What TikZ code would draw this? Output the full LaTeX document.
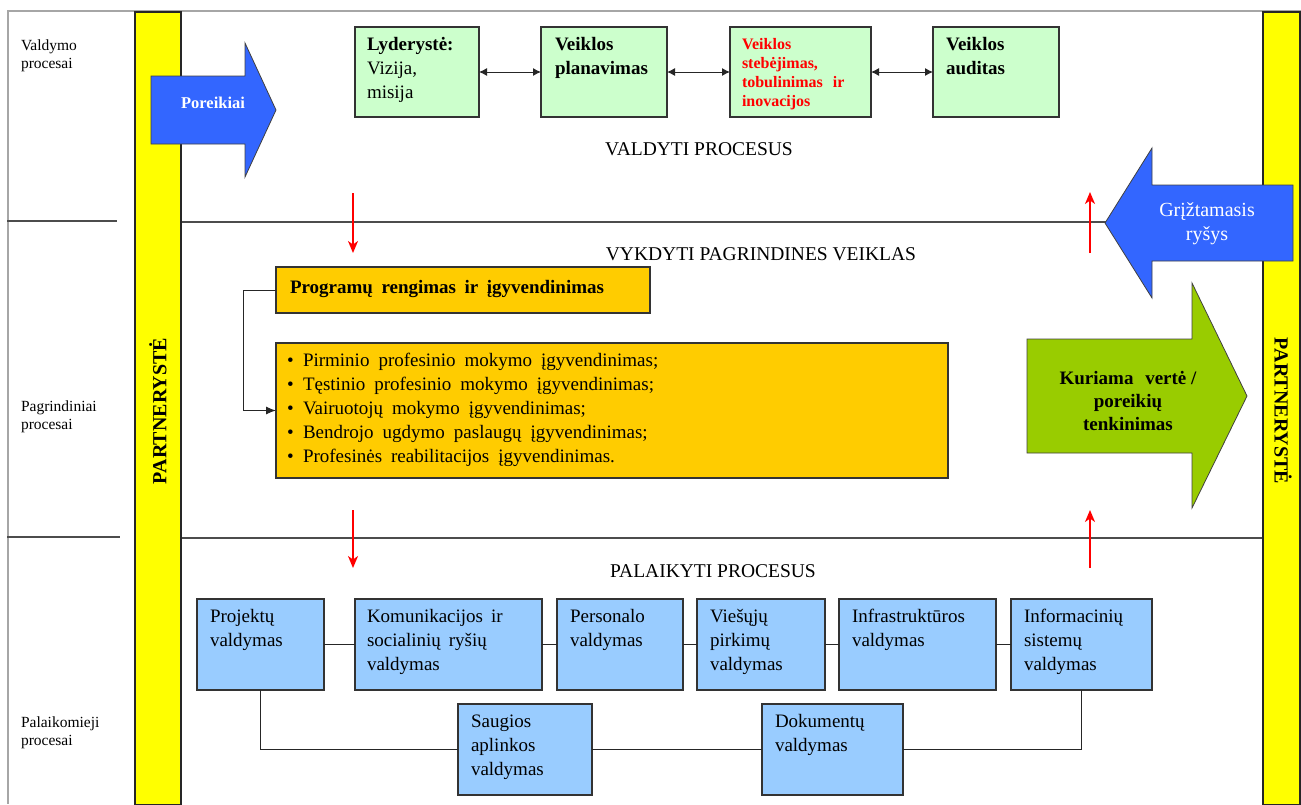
\documentclass[tikz,border=0pt]{standalone}
\usepackage{fontspec}
\setmainfont{Liberation Serif}
\usetikzlibrary{arrows.meta}
\definecolor{yfill}{HTML}{FFFF00}
\definecolor{gfill}{HTML}{CCFFCC}
\definecolor{bfill}{HTML}{99CCFF}
\definecolor{ofill}{HTML}{FFCC00}
\definecolor{arrblue}{HTML}{3366FF}
\definecolor{arrgreen}{HTML}{99CC00}
\newcommand\fsz[2]{\fontsize{#1}{#2}\selectfont}
\newcommand\mkbox[6]{\node[#1, minimum width={#4-#2}, minimum height={#5-#3}] (#6) at ({(#2+#4)/2},{(#3+#5)/2}) {};}
\newcommand\bl{\makebox[16pt][l]{\textbullet}}
\begin{document}
\begin{tikzpicture}[x=1pt,y=-1pt,
  every node/.style={inner sep=0pt, outer sep=0pt},
  xframe/.style={draw=black!80, line width=1.1pt},
  gbox/.style={xframe, fill=gfill},
  bbox/.style={xframe, fill=bfill},
  obox/.style={xframe, fill=ofill},
  xbar/.style={draw=black!85, line width=1.2pt, fill=yfill},
  xsep/.style={draw=black!70, line width=1.2pt},
  xconn/.style={draw=black!85, line width=1pt},
  dblarr/.style={xconn, {Latex[length=8pt,width=8pt]}-{Latex[length=8pt,width=8pt]}},
  blockarrow/.style={draw=black!75, line width=0.8pt},
  redarr/.style={draw=red, line width=1.6pt, -{Stealth[length=12pt,width=10pt,inset=3.5pt]}},
  txt/.style={align=left, anchor=north west, font=\fsz{19}{24}},
  sidelabel/.style={align=left, anchor=north west, font=\fsz{15.5}{18}},
  title/.style={font=\fsz{19.5}{24}},
  partner/.style={font=\fsz{20}{24}\bfseries}
]
\useasboundingbox (0,0) rectangle (1301,804);
% outer frame
\draw[draw=black!35, line width=1.2pt] (7,11) -- (1301,11);
\draw[draw=black!35, line width=1.2pt] (8,11) -- (8,804);
% section separators
\draw[xsep] (7,221) -- (117,221);
\draw[xsep] (7,537) -- (120,537);
\draw[xsep] (181,222) -- (1263,222);
\draw[xsep] (181,538) -- (1263,538);
% side labels
\node[sidelabel] (l1) at (21,38) {\strut Valdymo\\procesai};
\node[sidelabel] (l2) at (21,399) {\strut Pagrindiniai\\procesai};
\node[sidelabel] (l3) at (21,715) {\strut Palaikomieji\\procesai};
% partnership bars
\draw[xbar] (135,12) rectangle (181,805);
\draw[xbar] (1263,12) rectangle (1300,805);
\node[partner, rotate=90] (p1) at (158,411) {PARTNERYSTĖ};
\node[partner, rotate=-90] (p2) at (1283,411) {PARTNERYSTĖ};
% block arrows
\draw[blockarrow, fill=arrblue] (151,76) -- (245,76) -- (245,43) -- (276,110) -- (245,177) -- (245,144) -- (151,144) -- cycle;
\node[font=\fsz{16.5}{20}\bfseries, text=white] (por) at (213,103) {Poreikiai};
\draw[blockarrow, fill=arrblue] (1293,185) -- (1152,185) -- (1152,148) -- (1105,223) -- (1152,298) -- (1152,261) -- (1293,261) -- cycle;
\node[font=\fsz{20}{24}, text=white, align=center] (gr) at (1207,224) {Grįžtamasis\\ryšys};
\draw[blockarrow, fill=arrgreen] (1027,339) -- (1192,339) -- (1192,283) -- (1247,396) -- (1192,508) -- (1192,453) -- (1027,453) -- cycle;
\node[font=\fsz{19}{23}\bfseries, align=center] (kv) at (1128,401) {Kuriama\hspace{7pt} vertė /\\poreikių\\tenkinimas};
% titles
\node[title] (t1) at (699,149) {VALDYTI PROCESUS};
\node[title] (t2) at (761,254) {VYKDYTI PAGRINDINES VEIKLAS};
\node[title] (t3) at (713,571) {PALAIKYTI PROCESUS};
% management boxes
\mkbox{gbox}{355}{27}{479}{117}{g1}
\mkbox{gbox}{541}{27}{667}{117}{g2}
\mkbox{gbox}{730}{27}{871}{117}{g3}
\mkbox{gbox}{933}{27}{1059}{117}{g4}
\node[txt] (g1t) at ([shift={(12,7)}]g1.north west) {\strut\textbf{Lyderystė:}\\Vizija,\\misija};
\node[txt, font=\fsz{19}{24}\bfseries] (g2t) at ([shift={(14,7)}]g2.north west) {\strut Veiklos\\planavimas};
\node[txt, font=\fsz{16}{19}\bfseries, text=red] (g3t) at ([shift={(12,9)}]g3.north west) {\strut Veiklos\\stebėjimas,\\tobulinimas\hspace{6pt} ir\\inovacijos};
\node[txt, font=\fsz{19}{24}\bfseries] (g4t) at ([shift={(13,7)}]g4.north west) {\strut Veiklos\\auditas};
\draw[dblarr] (g1.east) -- (g2.west);
\draw[dblarr] (g2.east) -- (g3.west);
\draw[dblarr] (g3.east) -- (g4.west);
% main activity boxes
\mkbox{obox}{276}{267}{650}{313}{o1}
\mkbox{obox}{276}{343}{948}{478}{o2}
\node[font={\fsz{19}{24}\bfseries\spaceskip=8.5pt}, anchor=west] (o1t) at ([shift={(14,-1)}]o1.west) {Programų rengimas ir įgyvendinimas};
\node[txt, font={\fsz{19}{24}\spaceskip=9pt plus 1pt}] (o2t) at ([shift={(11,7)}]o2.north west) {\strut\bl Pirminio profesinio mokymo įgyvendinimas;\\
\bl Tęstinio profesinio mokymo įgyvendinimas;\\
\bl Vairuotojų mokymo įgyvendinimas;\\
\bl Bendrojo ugdymo paslaugų įgyvendinimas;\\
\bl Profesinės reabilitacijos įgyvendinimas.};
\draw[xconn, -{Latex[length=10pt,width=8pt]}] (o1.west) -- ++(-33,0) |- (o2.west);
% support boxes
\mkbox{bbox}{197}{599}{324}{690}{b1}
\mkbox{bbox}{355}{599}{542}{690}{b2}
\mkbox{bbox}{557}{599}{683}{690}{b3}
\mkbox{bbox}{697}{599}{825}{690}{b4}
\mkbox{bbox}{839}{599}{996}{690}{b5}
\mkbox{bbox}{1011}{599}{1152}{690}{b6}
\mkbox{bbox}{458}{704}{592}{795}{b7}
\mkbox{bbox}{762}{704}{903}{795}{b8}
\node[txt] (b1t) at ([shift={(13,7)}]b1.north west) {\strut Projektų\\valdymas};
\node[txt, font={\fsz{19}{24}\spaceskip=8pt}] (b2t) at ([shift={(12,7)}]b2.north west) {\strut Komunikacijos ir\\socialinių ryšių\\valdymas};
\node[txt] (b3t) at ([shift={(13,7)}]b3.north west) {\strut Personalo\\valdymas};
\node[txt] (b4t) at ([shift={(13,7)}]b4.north west) {\strut Viešųjų\\pirkimų\\valdymas};
\node[txt] (b5t) at ([shift={(13,7)}]b5.north west) {\strut Infrastruktūros\\valdymas};
\node[txt] (b6t) at ([shift={(13,7)}]b6.north west) {\strut Informacinių\\sistemų\\valdymas};
\node[txt] (b7t) at ([shift={(13,7)}]b7.north west) {\strut Saugios\\aplinkos\\valdymas};
\node[txt] (b8t) at ([shift={(13,7)}]b8.north west) {\strut Dokumentų\\valdymas};
\draw[xconn] (b1.east) -- (b2.west);
\draw[xconn] (b2.east) -- (b3.west);
\draw[xconn] (b3.east) -- (b4.west);
\draw[xconn] (b4.east) -- (b5.west);
\draw[xconn] (b5.east) -- (b6.west);
\draw[xconn] (b1.south) |- (b7.west);
\draw[xconn] (b7.east) -- (b8.west);
\draw[xconn] (b8.east) -| (b6.south);
% red flow arrows
\coordinate (r1s) at (353,193); \coordinate (r1e) at (353,253);
\coordinate (r2s) at (353,510); \coordinate (r2e) at (353,568);
\coordinate (r3s) at (1090,253); \coordinate (r3e) at (1090,192);
\coordinate (r4s) at (1090,568); \coordinate (r4e) at (1090,510);
\draw[redarr] (r1s) -- (r1e);
\draw[redarr] (r2s) -- (r2e);
\draw[redarr] (r3s) -- (r3e);
\draw[redarr] (r4s) -- (r4e);
\end{tikzpicture}
\end{document}
